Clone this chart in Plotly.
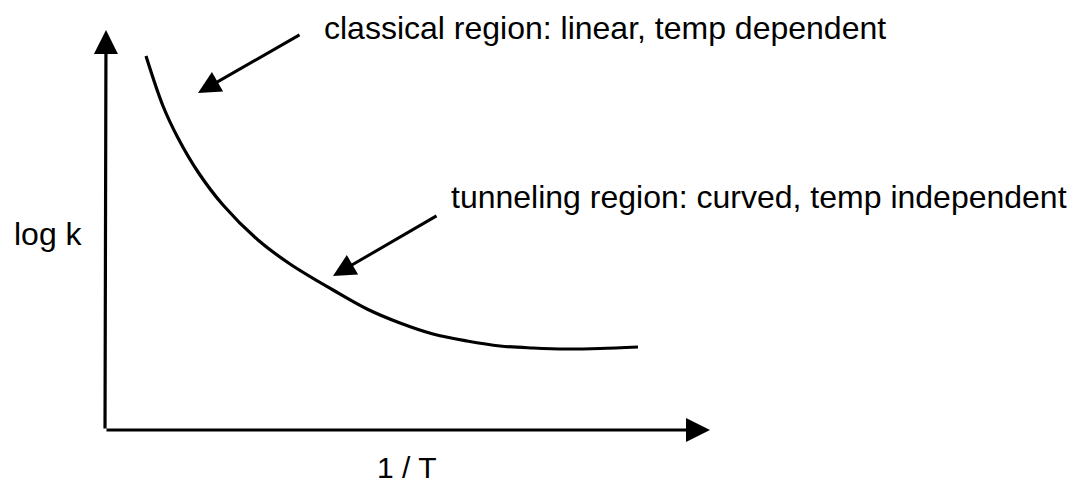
import plotly.graph_objects as go

# Schematic data (x = 1/T, y = log k, arbitrary units)
curve_x = [41, 58, 73, 93, 118, 153, 185, 228, 262, 295, 328, 362, 395, 428, 462, 495, 533]
curve_y = [374, 324, 292, 258, 225, 190, 166, 140, 121, 107, 96, 89, 84, 82, 81, 81.5, 83]

axis_origin = (0, 0)
y_axis_tip = (1, 400)
x_axis_tip = (605, 0)

classical_tail = (196, 396)
classical_tip = (93, 337)
tunnel_tail = (333, 215)
tunnel_tip = (228, 154)

labels = [
    ("classical region: linear, temp dependent", 218, 402, 32),
    ("tunneling region: curved, temp independent", 345, 233, 32),
    ("log k", -92, 196.5, 32),
    ("1 / T", 271, -37, 30),
]

FONT = "Liberation Sans, Arial, Helvetica, sans-serif"

fig = go.Figure()
fig.add_trace(go.Scatter(
    x=curve_x, y=curve_y, mode="lines",
    line=dict(color="black", width=3.2, shape="spline", smoothing=1.0),
    hoverinfo="skip", showlegend=False,
))

def arrow(tail, tip, width=3):
    return dict(
        x=tip[0], y=tip[1], ax=tail[0], ay=tail[1],
        xref="x", yref="y", axref="x", ayref="y",
        text="", showarrow=True, arrowhead=2, arrowsize=1.5,
        arrowwidth=width, arrowcolor="black", standoff=0,
    )

annotations = [
    arrow(axis_origin, y_axis_tip, 3.2),
    arrow(axis_origin, x_axis_tip, 3.2),
    arrow(classical_tail, classical_tip, 3),
    arrow(tunnel_tail, tunnel_tip, 3),
]
for txt, x, y, fs in labels:
    annotations.append(dict(
        x=x, y=y, xref="x", yref="y", text=txt, showarrow=False,
        xanchor="left", yanchor="middle", borderpad=0,
        font=dict(family=FONT, size=fs, color="black"),
    ))

# page body has an 8px default margin: size and ranges compensate for it
fig.update_layout(
    width=1077, height=479,
    margin=dict(l=0, r=0, t=0, b=0),
    paper_bgcolor="white", plot_bgcolor="white",
    xaxis=dict(range=[-97, 980], visible=False, fixedrange=True),
    yaxis=dict(range=[-57, 422], visible=False, fixedrange=True),
    annotations=annotations,
    showlegend=False,
)

fig.write_html("out.html")
